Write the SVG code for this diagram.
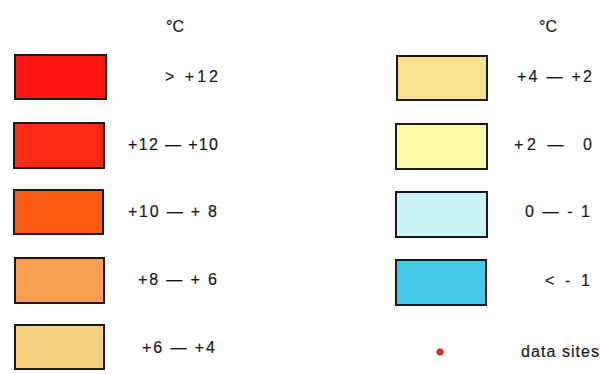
<svg xmlns="http://www.w3.org/2000/svg" width="600" height="374" viewBox="0 0 600 374">
<style>
.box{stroke:#1a1a1a;stroke-width:2}
.t{font-family:"Liberation Sans",Arial,sans-serif;font-size:16px;fill:#1a1a1a;stroke:#1a1a1a;stroke-width:0.2;white-space:pre}
</style>
<rect width="600" height="374" fill="#ffffff"/>
<g id="unit-left"><text class="t" x="166" y="32">°C</text></g>
<g id="unit-right"><text class="t" x="539" y="32">°C</text></g>
<g id="l1"><rect class="box" x="15" y="55" width="91" height="44" fill="#fe1410"/><text class="t" x="165" y="82" textLength="53" lengthAdjust="spacing">&gt; +12</text></g>
<g id="l2"><rect class="box" x="14" y="123" width="90" height="45" fill="#fc2a14"/><text class="t" x="128" y="150" textLength="90" lengthAdjust="spacing">+12 — +10</text></g>
<g id="l3"><rect class="box" x="14" y="190" width="89" height="44" fill="#fb5a14"/><text class="t" x="128" y="217" textLength="89" lengthAdjust="spacing">+10 — + 8</text></g>
<g id="l4"><rect class="box" x="15" y="258" width="89" height="45" fill="#f8a050"/><text class="t" x="138" y="285" textLength="79" lengthAdjust="spacing">+8 — + 6</text></g>
<g id="l5"><rect class="box" x="15" y="325" width="89" height="44" fill="#f8d080"/><text class="t" x="142" y="353" textLength="73" lengthAdjust="spacing">+6 — +4</text></g>
<g id="r1"><rect class="box" x="397" y="56" width="90" height="44" fill="#f8e090"/><text class="t" x="517" y="82" textLength="75" lengthAdjust="spacing">+4 — +2</text></g>
<g id="r2"><rect class="box" x="396" y="124" width="91" height="45" fill="#fcf8a8"/><text class="t" x="514" y="150" textLength="78" lengthAdjust="spacing">+2 —  0</text></g>
<g id="r3"><rect class="box" x="396" y="192" width="91" height="45" fill="#c8f4f8"/><text class="t" x="525" y="217" textLength="65" lengthAdjust="spacing">0 — - 1</text></g>
<g id="r4"><rect class="box" x="396" y="260" width="90" height="45" fill="#48c8e8"/><text class="t" x="545" y="286" textLength="45" lengthAdjust="spacing">&lt; - 1</text></g>
<g id="data-sites"><circle cx="440" cy="352" r="3.2" fill="#e03020" stroke="#b02818" stroke-width="0.8"/><text class="t" x="521" y="357" textLength="78" lengthAdjust="spacing">data sites</text></g>
</svg>
